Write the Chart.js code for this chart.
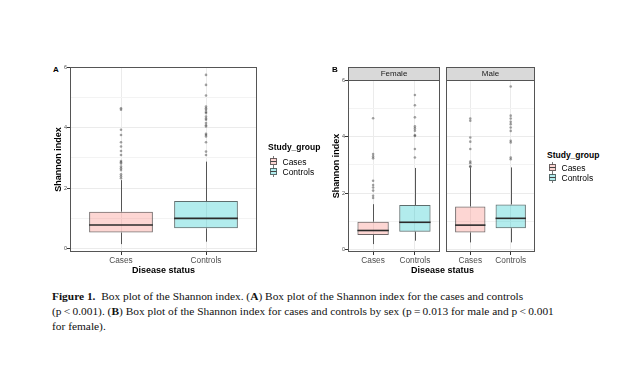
<!DOCTYPE html>
<html>
<head>
<meta charset="utf-8">
<script src="https://cdn.jsdelivr.net/npm/chart.js@4.4.1/dist/chart.umd.min.js"></script>
<style>
  html, body { margin: 0; padding: 0; background: #fff; }
  body { width: 640px; height: 384px; position: relative; overflow: hidden; font-family: 'Liberation Sans', Arial, sans-serif; }
  canvas { position: absolute; }
  .tag { position: absolute; font-weight: bold; color: #000; font-size: 8px; line-height: 10px; }
  .legend { position: absolute; font-size: 8.5px; color: #000; white-space: nowrap; }
  .legend .ttl { font-weight: bold; line-height: 10px; }
  .legend .row { line-height: 10px; height: 10px; display: flex; align-items: center; }
  .legend svg { margin-left: 1.5px; margin-right: 6px; }
  .xtitle { position: absolute; font-weight: bold; font-size: 9px; line-height: 10.8px; text-align: center; color: #000; }
  .caption { position: absolute; left: 52px; top: 289px; font-family: 'Liberation Serif', 'Times New Roman', serif; font-size: 11.4px; line-height: 15px; color: #111; white-space: nowrap; }
</style>
</head>
<body>

<div class="tag" style="left:53px;top:65px">A</div>
<canvas id="chartA" width="230" height="225" style="left:40px;top:55px"></canvas>
<div class="legend" id="legendA" style="left:268px;top:142px"></div>

<div class="tag" style="left:332px;top:65px">B</div>
<canvas id="chartF" width="124" height="225" style="left:320px;top:55px"></canvas>
<canvas id="chartM" width="97" height="225" style="left:442px;top:55px"></canvas>
<div class="xtitle" style="left:392px;top:265px;width:101px">Disease status</div>
<div class="legend" id="legendB" style="left:547px;top:150px"></div>

<div class="caption">
<b>Figure 1.</b>&nbsp; Box plot of the Shannon index. (<b>A</b>) Box plot of the Shannon index for the cases and controls<br>
(p&thinsp;&lt;&thinsp;0.001). (<b>B</b>) Box plot of the Shannon index for cases and controls by sex (p&thinsp;=&thinsp;0.013 for male and p&thinsp;&lt;&thinsp;0.001<br>
for female).
</div>

<script>
// groups and axis ticks
const groups = ['Cases', 'Controls'];
const yMajor = [0, 2, 4, 6];
const yMinor = [1, 3, 5];

// panel A - all subjects
const allQ1 = [0.54, 0.68];
const allMed = [0.79, 1.01];
const allQ3 = [1.23, 1.58];
const allLow = [0.16, 0.24];
const allHigh = [2.27, 2.88];
const allOutCases = [4.64, 4.59, 3.93, 3.76, 3.52, 3.38, 3.23, 3.10, 2.90, 2.86, 2.82, 2.72, 2.66, 2.60, 2.46, 2.40, 2.33];
const allOutControls = [5.74, 5.41, 5.06, 4.70, 4.64, 4.59, 4.52, 4.48, 4.37, 4.30, 4.26, 4.15, 4.08, 4.04, 3.80, 3.76, 3.71, 3.52, 3.21, 3.10];

// panel B - female
const femQ1 = [0.52, 0.64];
const femMed = [0.68, 0.97];
const femQ3 = [0.99, 1.58];
const femLow = [0.20, 0.32];
const femHigh = [1.61, 2.89];
const femOutCases = [4.65, 3.38, 3.30, 3.23, 2.44, 2.29, 2.20, 2.09, 1.91, 1.83];
const femOutControls = [5.47, 5.11, 4.68, 4.36, 4.29, 4.21, 4.05, 4.02, 3.56, 3.26];

// panel B - male
const maleQ1 = [0.61, 0.76];
const maleMed = [0.87, 1.11];
const maleQ3 = [1.53, 1.60];
const maleLow = [0.26, 0.26];
const maleHigh = [2.91, 2.91];
const maleOutCases = [4.64, 4.56, 3.97, 3.82, 3.56, 3.12, 3.06, 2.95, 2.93];
const maleOutControls = [5.77, 4.74, 4.64, 4.52, 4.44, 4.32, 4.20, 3.85, 3.79, 3.26, 3.20];

const fills = ['rgba(248,118,109,0.3)', 'rgba(0,191,196,0.3)'];
const edges = ['rgba(60,50,50,0.75)', 'rgba(40,60,60,0.75)'];

Chart.defaults.font.family = "'Liberation Sans', Arial, sans-serif";

// whiskers + median lines, placed with the chart's own scales
const boxParts = {
  id: 'boxParts',
  afterDatasetsDraw(chart) {
    const ctx = chart.ctx, y = chart.scales.y;
    chart.data.datasets.forEach((ds, d) => {
      if (!ds.stats) return;
      const s = ds.stats;
      chart.getDatasetMeta(d).data.forEach((bar, i) => {
        const x = Math.round(bar.x) + 0.5;
        const half = bar.width / 2;
        ctx.save();
        ctx.strokeStyle = '#555';
        ctx.lineWidth = 1;
        ctx.beginPath();
        ctx.moveTo(x, y.getPixelForValue(s.high[i]));
        ctx.lineTo(x, y.getPixelForValue(s.q3[i]));
        ctx.moveTo(x, y.getPixelForValue(s.q1[i]));
        ctx.lineTo(x, y.getPixelForValue(s.low[i]));
        ctx.stroke();
        ctx.strokeStyle = '#2b2b2b';
        ctx.lineWidth = 1.6;
        const ym = y.getPixelForValue(s.med[i]);
        ctx.beginPath();
        ctx.moveTo(bar.x - half, ym);
        ctx.lineTo(bar.x + half, ym);
        ctx.stroke();
        ctx.restore();
      });
    });
  }
};

// panel border and facet strip
const frame = {
  id: 'frame',
  afterDraw(chart, args, opts) {
    const ctx = chart.ctx, a = chart.chartArea;
    const l = Math.round(a.left) + 0.5, t = Math.round(a.top) + 0.5;
    const w = Math.round(a.right - a.left) - 1, h = Math.round(a.bottom - a.top) - 1;
    ctx.save();
    ctx.lineWidth = 1;
    ctx.strokeStyle = '#555';
    if (opts.strip) {
      const sh = 13;
      ctx.fillStyle = '#d9d9d9';
      ctx.fillRect(l, t - sh, w, sh);
      ctx.strokeRect(l, t - sh, w, sh);
      ctx.fillStyle = '#1a1a1a';
      ctx.font = "8px 'Liberation Sans', Arial, sans-serif";
      ctx.textAlign = 'center';
      ctx.textBaseline = 'middle';
      ctx.fillText(opts.strip, (a.left + a.right) / 2, t - sh / 2);
    }
    ctx.strokeRect(l, t, w, h);
    ctx.restore();
  }
};

function boxChart(id, st, outCases, outControls, cfg) {
  const isMajor = v => yMajor.includes(v);
  return new Chart(document.getElementById(id), {
    type: 'bar',
    data: {
      datasets: [
        {
          type: 'bar',
          data: groups.map((g, i) => ({ x: i + 1, y: [st.q1[i], st.q3[i]] })),
          backgroundColor: fills,
          borderColor: edges,
          borderWidth: 1,
          borderSkipped: false,
          barPercentage: 0.75,
          categoryPercentage: 1,
          stats: st,
          order: 2
        },
        {
          type: 'scatter',
          data: outCases.map(v => ({ x: 1, y: v })).concat(outControls.map(v => ({ x: 2, y: v }))),
          pointRadius: 1.3,
          pointBackgroundColor: 'rgba(50,50,50,0.45)',
          pointBorderWidth: 0,
          order: 1
        }
      ]
    },
    options: {
      responsive: false,
      animation: false,
      devicePixelRatio: 1,
      layout: { padding: cfg.padding },
      plugins: {
        legend: { display: false },
        tooltip: { enabled: false },
        frame: { strip: cfg.strip || '' }
      },
      scales: {
        x: {
          type: 'linear',
          min: 0.4,
          max: 2.6,
          offset: false,
          afterBuildTicks: s => { s.ticks = groups.map((g, i) => ({ value: i + 1 })); },
          afterFit: s => { s.height = 24; },
          ticks: {
            callback: (v, i) => groups[i],
            color: '#4d4d4d',
            font: { size: 8.3 },
            padding: 1,
            autoSkip: false,
            maxRotation: 0
          },
          grid: { color: '#ebebeb', tickColor: '#333', tickLength: 3, offset: false },
          border: { display: false },
          title: {
            display: !!cfg.xTitle,
            text: 'Disease status',
            color: '#000',
            font: { size: 9, weight: 'bold' },
            padding: 0
          }
        },
        y: {
          min: cfg.yMin,
          max: 6,
          afterBuildTicks: s => { s.ticks = yMajor.concat(yMinor).sort().map(v => ({ value: v })); },
          afterFit: s => { s.width = cfg.showY ? 17 : 0; },
          ticks: {
            display: cfg.showY,
            callback: v => isMajor(v) ? String(v) : '',
            color: '#4d4d4d',
            font: { size: 5.5 },
            padding: 0
          },
          grid: {
            color: c => (c.tick && isMajor(c.tick.value)) ? '#ebebeb' : '#f3f3f3',
            tickColor: c => (c.tick && isMajor(c.tick.value)) ? '#333' : 'rgba(0,0,0,0)',
            tickLength: 3,
            drawTicks: cfg.showY
          },
          border: { display: false },
          title: {
            display: cfg.showY,
            text: 'Shannon index',
            color: '#000',
            font: { size: 9, weight: 'bold' },
            padding: 0
          }
        }
      }
    },
    plugins: [boxParts, frame]
  });
}

boxChart('chartA',
  { q1: allQ1, med: allMed, q3: allQ3, low: allLow, high: allHigh },
  allOutCases, allOutControls,
  { padding: { left: 13, top: 12, right: 13, bottom: 4 }, yMin: -0.1, showY: true, xTitle: true });

boxChart('chartF',
  { q1: femQ1, med: femMed, q3: femQ3, low: femLow, high: femHigh },
  femOutCases, femOutControls,
  { padding: { left: 11, top: 25, right: 2, bottom: 4 }, yMin: -0.08, showY: true, strip: 'Female' });

boxChart('chartM',
  { q1: maleQ1, med: maleMed, q3: maleQ3, low: maleLow, high: maleHigh },
  maleOutCases, maleOutControls,
  { padding: { left: 2, top: 25, right: 2, bottom: 4 }, yMin: -0.08, showY: false, strip: 'Male' });

// legends (Study_group)
function glyph(i) {
  return '<svg width="7" height="11" viewBox="0 0 7 11">' +
    '<line x1="3.5" y1="0" x2="3.5" y2="2.5" stroke="#777"/>' +
    '<rect x="0.5" y="2.5" width="6" height="6" fill="' + fills[i] + '" stroke="' + edges[i] + '"/>' +
    '<line x1="0.5" y1="5.5" x2="6.5" y2="5.5" stroke="#444"/>' +
    '<line x1="3.5" y1="8.5" x2="3.5" y2="11" stroke="#777"/></svg>';
}
function legend(id, gap) {
  const el = document.getElementById(id);
  let html = '<div class="ttl" style="margin-bottom:' + gap + 'px">Study_group</div>';
  groups.forEach((g, i) => { html += '<div class="row">' + glyph(i) + '<span>' + g + '</span></div>'; });
  el.innerHTML = html;
}
legend('legendA', 4.5);
legend('legendB', 2.7);
</script>
</body>
</html>
